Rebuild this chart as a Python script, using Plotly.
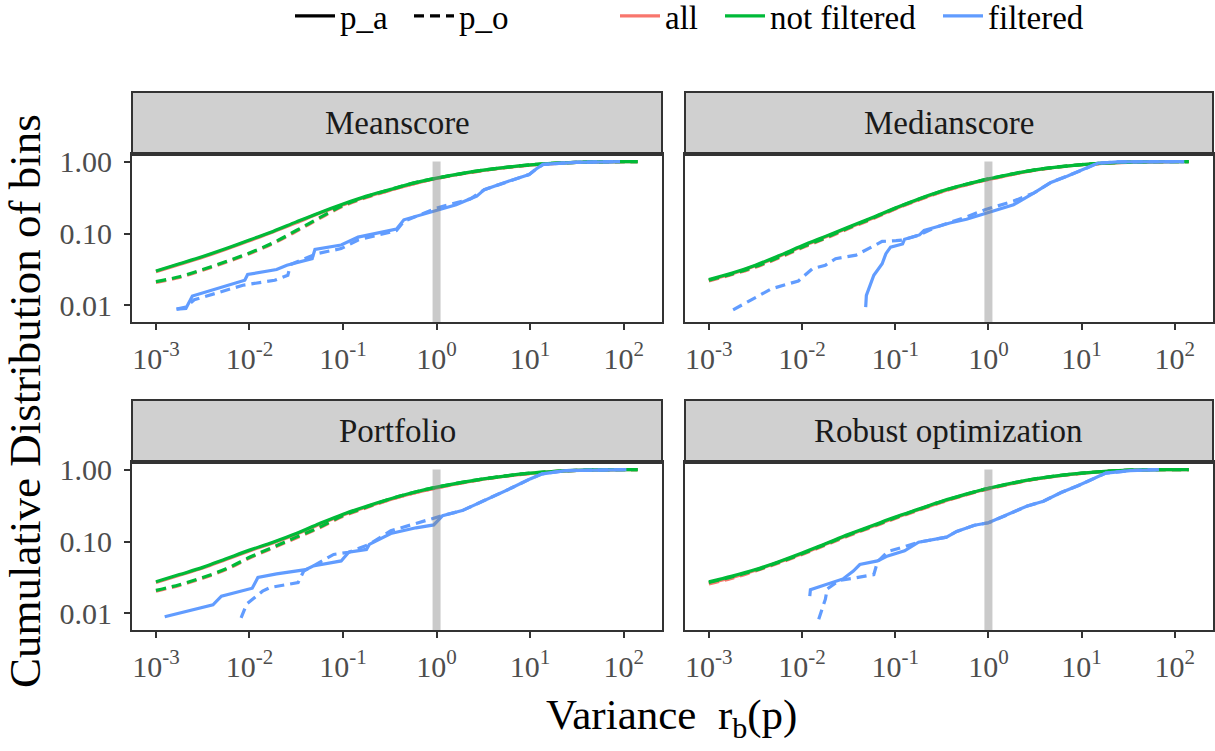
import plotly.graph_objects as go

FONT = "Liberation Serif"

PANELS = ["Meanscore", "Medianscore", "Portfolio", "Robust optimization"]
GROUPS = ["all", "not filtered", "filtered"]
PROBS = ["p_a", "p_o"]
COLORS = {"all": "#F8766D", "not filtered": "#00BA38", "filtered": "#619CFF"}
DASHES = {"p_a": "solid", "p_o": "10px,6px"}

X_TICKS = [0.001, 0.01, 0.1, 1, 10, 100]
X_TICKTEXT = ["10<sup>-3</sup>", "10<sup>-2</sup>", "10<sup>-1</sup>",
              "10<sup>0</sup>", "10<sup>1</sup>", "10<sup>2</sup>"]
Y_TICKS = [0.01, 0.1, 1]
Y_TICKTEXT = ["0.01", "0.10", "1.00"]
REF_VARIANCE = 1.0
REF_LINE_Y = [1.0, 0.0001]

# common variance grid for the "all" / "not filtered" curves
VAR_GRID = [0.001, 0.00178, 0.00316, 0.00562, 0.01, 0.0178, 0.0316, 0.0562, 0.1,
            0.178, 0.316, 0.562, 1, 3.16, 10, 31.6, 100, 141]

# ---- Meanscore
mean_all_pa = [0.0295, 0.0372, 0.0468, 0.0603, 0.0794, 0.105, 0.141, 0.191, 0.251, 0.324, 0.398, 0.490, 0.582, 0.750, 0.891, 0.973, 0.995, 1.0]
mean_all_po = [0.0209, 0.0245, 0.0309, 0.0398, 0.0525, 0.0724, 0.107, 0.162, 0.240, 0.316, 0.398, 0.490, 0.582, 0.750, 0.891, 0.973, 0.995, 1.0]
mean_nf_pa = [0.0302, 0.0380, 0.0479, 0.0617, 0.0813, 0.107, 0.145, 0.195, 0.257, 0.331, 0.407, 0.501, 0.589, 0.759, 0.900, 0.977, 0.998, 1.0]
mean_nf_po = [0.0214, 0.0251, 0.0316, 0.0407, 0.0537, 0.0741, 0.110, 0.166, 0.245, 0.324, 0.407, 0.501, 0.589, 0.759, 0.900, 0.977, 0.998, 1.0]
mean_filt_pa_x = [0.00166, 0.00209, 0.00245, 0.00891, 0.00955, 0.0195, 0.0251, 0.0468, 0.0501, 0.0955, 0.145, 0.372, 0.447, 0.966, 1.62, 2.69, 3.24, 5.37, 9.77, 11.7, 13.8, 30.2, 91.2]
mean_filt_pa_y = [0.0089, 0.0091, 0.0135, 0.0224, 0.0269, 0.0316, 0.0363, 0.0447, 0.0603, 0.0692, 0.0891, 0.115, 0.155, 0.209, 0.251, 0.331, 0.407, 0.513, 0.661, 0.794, 0.912, 0.977, 1.0]
mean_filt_po_x = [0.00166, 0.00209, 0.00257, 0.00851, 0.0186, 0.0257, 0.0275, 0.0525, 0.0955, 0.145, 0.372, 0.447, 1.0, 1.62, 2.29, 3.24, 5.37, 9.77, 11.7, 13.8, 30.2, 91.2]
mean_filt_po_y = [0.0089, 0.0095, 0.0120, 0.0191, 0.0224, 0.0263, 0.0372, 0.0525, 0.0617, 0.0813, 0.110, 0.148, 0.226, 0.266, 0.302, 0.407, 0.513, 0.661, 0.794, 0.912, 0.977, 1.0]

# ---- Medianscore
med_all_pa = [0.0224, 0.0275, 0.0355, 0.0479, 0.0661, 0.0891, 0.120, 0.162, 0.221, 0.295, 0.380, 0.468, 0.562, 0.759, 0.902, 0.977, 0.995, 1.0]
med_all_po = [0.0219, 0.0269, 0.0339, 0.0457, 0.0631, 0.0851, 0.117, 0.158, 0.219, 0.292, 0.380, 0.468, 0.562, 0.759, 0.902, 0.977, 0.995, 1.0]
med_nf_pa = [0.0229, 0.0282, 0.0363, 0.0490, 0.0676, 0.0912, 0.123, 0.166, 0.226, 0.302, 0.389, 0.479, 0.575, 0.767, 0.908, 0.982, 0.998, 1.0]
med_nf_po = [0.0224, 0.0275, 0.0347, 0.0468, 0.0646, 0.0871, 0.120, 0.162, 0.224, 0.299, 0.389, 0.479, 0.575, 0.767, 0.908, 0.982, 0.998, 1.0]
med_filt_pa_x = [0.0482, 0.0490, 0.0589, 0.0724, 0.0794, 0.0891, 0.120, 0.126, 0.182, 0.204, 0.275, 0.385, 0.582, 0.918, 1.86, 3.09, 4.68, 7.08, 10.7, 14.8, 24.5, 126]
med_filt_pa_y = [0.0095, 0.0138, 0.0263, 0.0380, 0.0525, 0.0646, 0.0716, 0.0832, 0.0955, 0.110, 0.123, 0.140, 0.158, 0.191, 0.251, 0.367, 0.513, 0.631, 0.782, 0.948, 0.989, 1.0]
med_filt_po_x = [0.00182, 0.00468, 0.00912, 0.0129, 0.0178, 0.0229, 0.038, 0.0525, 0.0724, 0.102, 0.120, 0.182, 0.275, 0.582, 0.918, 1.86, 3.09, 4.68, 7.08, 10.7, 14.8, 24.5, 126]
med_filt_po_y = [0.0087, 0.0170, 0.0219, 0.0324, 0.0363, 0.0447, 0.0501, 0.0617, 0.0776, 0.0794, 0.0813, 0.0955, 0.123, 0.170, 0.214, 0.282, 0.367, 0.513, 0.631, 0.782, 0.948, 0.989, 1.0]

# ---- Portfolio
port_all_pa = [0.0269, 0.0339, 0.0427, 0.0562, 0.0741, 0.0955, 0.126, 0.174, 0.234, 0.302, 0.380, 0.468, 0.556, 0.733, 0.881, 0.973, 0.995, 1.0]
port_all_po = [0.0204, 0.0245, 0.0309, 0.0407, 0.0589, 0.0813, 0.112, 0.155, 0.224, 0.295, 0.380, 0.468, 0.556, 0.733, 0.881, 0.973, 0.995, 1.0]
port_nf_pa = [0.0275, 0.0347, 0.0437, 0.0575, 0.0759, 0.0977, 0.129, 0.178, 0.240, 0.309, 0.389, 0.479, 0.569, 0.741, 0.891, 0.977, 0.998, 1.0]
port_nf_po = [0.0209, 0.0251, 0.0316, 0.0417, 0.0603, 0.0832, 0.115, 0.158, 0.229, 0.302, 0.389, 0.479, 0.569, 0.741, 0.891, 0.977, 0.998, 1.0]
port_filt_pa_x = [0.00124, 0.00407, 0.00501, 0.0107, 0.0123, 0.0195, 0.0398, 0.0479, 0.0955, 0.115, 0.178, 0.191, 0.324, 0.603, 0.933, 1.16, 1.88, 2.69, 4.17, 6.46, 10.0, 13.5, 24.0, 107]
port_filt_pa_y = [0.0090, 0.0132, 0.0174, 0.0224, 0.0316, 0.0355, 0.0407, 0.0457, 0.0537, 0.0708, 0.0776, 0.0912, 0.129, 0.155, 0.170, 0.229, 0.269, 0.331, 0.437, 0.562, 0.741, 0.871, 0.968, 1.0]
port_filt_po_x = [0.00813, 0.00933, 0.0138, 0.0166, 0.0331, 0.0380, 0.0479, 0.0794, 0.115, 0.191, 0.324, 0.724, 0.977, 1.16, 1.88, 2.69, 4.17, 6.46, 10.0, 13.5, 24.0, 107]
port_filt_po_y = [0.0087, 0.0135, 0.0204, 0.0229, 0.0269, 0.0389, 0.0457, 0.0661, 0.0708, 0.0912, 0.141, 0.191, 0.216, 0.229, 0.269, 0.331, 0.437, 0.562, 0.741, 0.871, 0.968, 1.0]

# ---- Robust optimization
rob_all_pa = [0.0263, 0.0316, 0.0398, 0.0513, 0.0676, 0.0912, 0.123, 0.162, 0.214, 0.276, 0.355, 0.444, 0.540, 0.733, 0.885, 0.978, 0.997, 1.0]
rob_all_po = [0.0257, 0.0309, 0.0389, 0.0501, 0.0661, 0.0891, 0.120, 0.158, 0.209, 0.272, 0.351, 0.440, 0.537, 0.733, 0.885, 0.978, 0.997, 1.0]
rob_nf_pa = [0.0275, 0.0330, 0.0407, 0.0525, 0.0692, 0.0933, 0.126, 0.166, 0.219, 0.282, 0.363, 0.452, 0.550, 0.741, 0.891, 0.982, 0.998, 1.0]
rob_nf_po = [0.0269, 0.0324, 0.0398, 0.0513, 0.0676, 0.0912, 0.123, 0.162, 0.214, 0.279, 0.360, 0.450, 0.548, 0.741, 0.891, 0.982, 0.998, 1.0]
rob_filt_pa_x = [0.0121, 0.0123, 0.0275, 0.0355, 0.0417, 0.0646, 0.0832, 0.126, 0.178, 0.355, 0.457, 0.708, 1.0, 1.66, 2.57, 3.89, 6.03, 9.12, 14.1, 18.2, 33.1, 67.6]
rob_filt_pa_y = [0.0174, 0.0214, 0.0302, 0.0389, 0.0479, 0.0537, 0.0631, 0.0741, 0.0977, 0.115, 0.138, 0.168, 0.182, 0.240, 0.309, 0.363, 0.479, 0.596, 0.776, 0.891, 0.968, 1.0]
rob_filt_po_x = [0.0151, 0.0178, 0.0186, 0.0251, 0.0355, 0.0589, 0.0646, 0.0832, 0.117, 0.178, 0.355, 0.457, 0.708, 1.0, 1.66, 2.57, 3.89, 6.03, 9.12, 14.1, 18.2, 33.1, 67.6]
rob_filt_po_y = [0.0083, 0.0158, 0.0219, 0.0288, 0.0309, 0.0347, 0.0525, 0.0724, 0.0822, 0.0977, 0.115, 0.138, 0.168, 0.182, 0.240, 0.309, 0.363, 0.479, 0.596, 0.776, 0.891, 0.968, 1.0]

SERIES = {
    "Meanscore": {
        ("all", "p_a"): (VAR_GRID, mean_all_pa), ("all", "p_o"): (VAR_GRID, mean_all_po),
        ("not filtered", "p_a"): (VAR_GRID, mean_nf_pa), ("not filtered", "p_o"): (VAR_GRID, mean_nf_po),
        ("filtered", "p_a"): (mean_filt_pa_x, mean_filt_pa_y), ("filtered", "p_o"): (mean_filt_po_x, mean_filt_po_y),
    },
    "Medianscore": {
        ("all", "p_a"): (VAR_GRID, med_all_pa), ("all", "p_o"): (VAR_GRID, med_all_po),
        ("not filtered", "p_a"): (VAR_GRID, med_nf_pa), ("not filtered", "p_o"): (VAR_GRID, med_nf_po),
        ("filtered", "p_a"): (med_filt_pa_x, med_filt_pa_y), ("filtered", "p_o"): (med_filt_po_x, med_filt_po_y),
    },
    "Portfolio": {
        ("all", "p_a"): (VAR_GRID, port_all_pa), ("all", "p_o"): (VAR_GRID, port_all_po),
        ("not filtered", "p_a"): (VAR_GRID, port_nf_pa), ("not filtered", "p_o"): (VAR_GRID, port_nf_po),
        ("filtered", "p_a"): (port_filt_pa_x, port_filt_pa_y), ("filtered", "p_o"): (port_filt_po_x, port_filt_po_y),
    },
    "Robust optimization": {
        ("all", "p_a"): (VAR_GRID, rob_all_pa), ("all", "p_o"): (VAR_GRID, rob_all_po),
        ("not filtered", "p_a"): (VAR_GRID, rob_nf_pa), ("not filtered", "p_o"): (VAR_GRID, rob_nf_po),
        ("filtered", "p_a"): (rob_filt_pa_x, rob_filt_pa_y), ("filtered", "p_o"): (rob_filt_po_x, rob_filt_po_y),
    },
}

# ---------------- layout geometry (paper fractions)
W, H = 1215, 751
COL_DOM = [[132 / W, 662 / W], [685 / W, 1213 / W]]
ROW_DOM = [[1 - 322 / H, 1 - 154 / H], [1 - 630 / H, 1 - 462 / H]]
STRIP_H = 62 / H
AX_COLOR = "#333333"
# left edge (px) of each legend block: p_a, p_o, all, not filtered, filtered
LEGEND_X_PX = [290, 409, 615, 720, 938]

fig = go.Figure()

for i, panel in enumerate(PANELS):
    sfx = "" if i == 0 else str(i + 1)
    xa, ya = "x" + sfx, "y" + sfx
    for g in GROUPS:
        for p in PROBS:
            xs, ys = SERIES[panel][(g, p)]
            fig.add_trace(go.Scatter(
                x=xs, y=ys, mode="lines", xaxis=xa, yaxis=ya,
                line=dict(color=COLORS[g], width=3.2, dash=DASHES[p],
                          shape="linear" if g == "filtered" else "spline"),
                showlegend=False, hoverinfo="skip"))
    fig.add_trace(go.Scatter(
        x=[REF_VARIANCE, REF_VARIANCE], y=REF_LINE_Y, mode="lines", xaxis=xa, yaxis=ya,
        line=dict(color="rgba(128,128,128,0.42)", width=8),
        showlegend=False, hoverinfo="skip"))

# legend entries, one small legend per key so each can be placed
legend_items = [(p, "black", DASHES[p]) for p in PROBS] + [(g, COLORS[g], "solid") for g in GROUPS]
legend_layout = {}
for k, (name, color, dash) in enumerate(legend_items):
    lname = "legend" if k == 0 else "legend" + str(k + 1)
    fig.add_trace(go.Scatter(x=[None], y=[None], mode="lines", name=name,
                             line=dict(color=color, width=3.2, dash=dash),
                             legend=lname))
    legend_layout[lname] = dict(
        orientation="h", yanchor="middle", y=1 - 16 / H, xanchor="left",
        x=LEGEND_X_PX[k] / W,
        font=dict(family=FONT, size=33, color="black"),
        bgcolor="rgba(0,0,0,0)", itemwidth=40, borderwidth=0)

tickfont = dict(family=FONT, size=30, color="#4D4D4D")
shapes = []
annotations = []
for i, panel in enumerate(PANELS):
    r, c = divmod(i, 2)
    sfx = "" if i == 0 else str(i + 1)
    xdom, ydom = COL_DOM[c], ROW_DOM[r]
    fig.layout["xaxis" + sfx] = dict(
        domain=xdom, anchor="y" + sfx, type="log", range=[-3.256, 2.41],
        tickvals=X_TICKS, ticktext=X_TICKTEXT, showgrid=False, zeroline=False,
        showline=True, mirror=True, linecolor=AX_COLOR, linewidth=2,
        ticks="outside", ticklen=6, tickwidth=2, tickcolor=AX_COLOR, tickfont=tickfont,
        ticklabelstandoff=3, automargin=False)
    fig.layout["yaxis" + sfx] = dict(
        domain=ydom, anchor="x" + sfx, type="log", range=[-2.23, 0.105],
        tickvals=Y_TICKS, ticktext=Y_TICKTEXT, showgrid=False, zeroline=False,
        showline=True, mirror=True, linecolor=AX_COLOR, linewidth=2,
        ticks="outside" if c == 0 else "", ticklen=6, tickwidth=2, tickcolor=AX_COLOR,
        showticklabels=(c == 0), tickfont=tickfont, ticklabelstandoff=6, automargin=False)
    shapes.append(dict(type="rect", xref="paper", yref="paper",
                       x0=xdom[0], x1=xdom[1], y0=ydom[1], y1=ydom[1] + STRIP_H,
                       fillcolor="#D0D0D0", line=dict(color=AX_COLOR, width=2), layer="below"))
    shapes.append(dict(type="line", xref="paper", yref="paper",
                       x0=xdom[0], x1=xdom[1], y0=ydom[1], y1=ydom[1],
                       line=dict(color=AX_COLOR, width=4)))
    annotations.append(dict(text=panel, xref="paper", yref="paper",
                            x=(xdom[0] + xdom[1]) / 2, y=ydom[1] + STRIP_H / 2,
                            showarrow=False, xanchor="center", yanchor="middle",
                            font=dict(family=FONT, size=33, color="#1A1A1A")))

annotations.append(dict(text="Variance  r<sub>b</sub>(p)", xref="paper", yref="paper",
                        x=672 / W, y=1 - 718 / H, showarrow=False,
                        xanchor="center", yanchor="middle",
                        font=dict(family=FONT, size=43, color="black")))
annotations.append(dict(text="Cumulative Distribution of bins", xref="paper", yref="paper",
                        x=25 / W, y=1 - 401 / H, showarrow=False, textangle=-90,
                        xanchor="center", yanchor="middle",
                        font=dict(family=FONT, size=45, color="black")))

fig.update_layout(
    width=W, height=H, margin=dict(l=0, r=0, t=0, b=0, autoexpand=False),
    paper_bgcolor="white", plot_bgcolor="white",
    shapes=shapes, annotations=annotations,
    font=dict(family=FONT),
    **legend_layout,
)

fig.write_html("out.html",
               config={"displayModeBar": False, "staticPlot": True},
               post_script="document.body.style.margin='0px';document.body.style.overflow='hidden';")
